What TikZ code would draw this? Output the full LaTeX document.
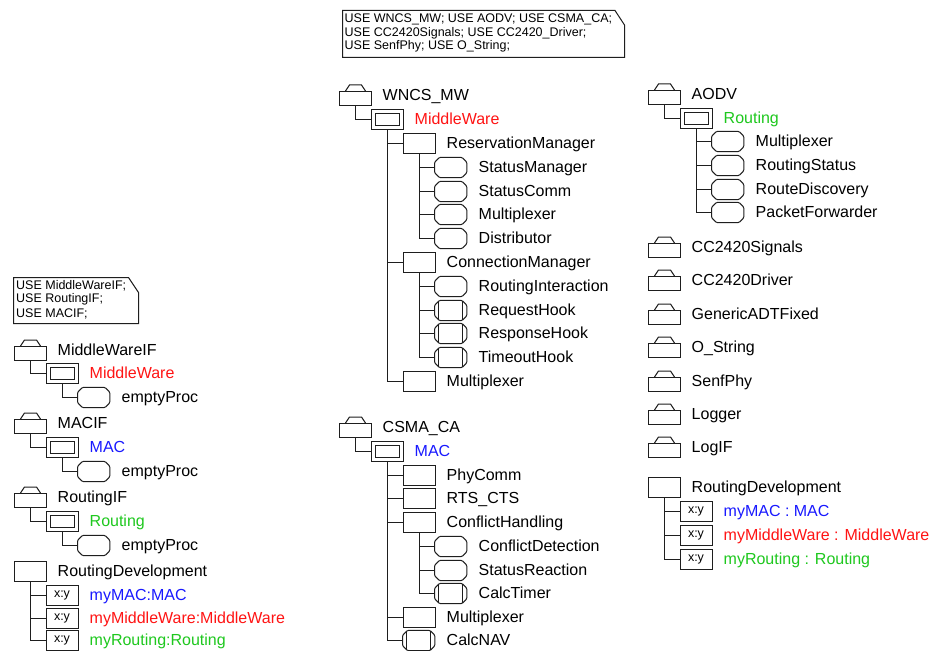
\documentclass[tikz,border=0pt]{standalone}
\usepackage{fontspec}
\setmainfont{Liberation Sans}
\newcommand\FontMain{\fontsize{16bp}{19bp}\selectfont}
\newcommand\FontNote{\fontsize{12.5bp}{13.5bp}\selectfont}
\definecolor{cred}{RGB}{255,20,20}
\definecolor{cblue}{RGB}{25,25,255}
\definecolor{cgreen}{RGB}{30,200,30}
\definecolor{cline}{RGB}{30,30,30}
\tikzset{
  ln/.style={line width=1bp, draw=cline, line join=miter},
  conn/.style={ln},
  box0/.style={rectangle, inner sep=0pt, minimum width=32bp, minimum height=20bp, anchor=west},
  blk/.style={box0, draw, ln},
  sysbox/.style={box0, draw, ln,
    path picture={\draw[ln] ([shift={(4bp,-4bp)}]path picture bounding box.north west) rectangle ([shift={(-4bp,4bp)}]path picture bounding box.south east);}},
  pkgbox/.style={box0, draw, ln, minimum width=32bp, minimum height=14bp, yshift=-3bp},
  inst/.style={blk, font=\FontNote, text=black},
  lbl/.style={anchor=west, inner sep=0pt, text height=11.5bp, text depth=2bp, font=\FontMain},
  notetxt/.style={anchor=base west, inner sep=0pt, font=\FontNote},
}
\newcommand\Lbl[5]{\node[lbl, xshift=44bp, text=#1] (#2-t) at (#3,#4) {#5};}
\newcommand\Pkg[5][black]{%
  \node[pkgbox] (#2) at (#3,#4) {};
  \draw[ln] ([xshift=7bp]#2.north west) -- ++(4bp,6bp) -- ++(12bp,0bp) -- ++(4bp,-6bp);
  \Lbl{#1}{#2}{#3}{#4}{#5}}
\newcommand\Sys[5][black]{%
  \node[sysbox] (#2) at (#3,#4) {};
  \Lbl{#1}{#2}{#3}{#4}{#5}}
\newcommand\Blk[5][black]{%
  \node[blk] (#2) at (#3,#4) {};
  \Lbl{#1}{#2}{#3}{#4}{#5}}
\newcommand\Oct[1]{%
  \draw[ln, rounded corners=1.2bp] ([xshift=5bp]#1.north west) -- ([xshift=-5bp]#1.north east) -- ([yshift=-5bp]#1.north east) -- ([yshift=5bp]#1.south east) -- ([xshift=-5bp]#1.south east) -- ([xshift=5bp]#1.south west) -- ([yshift=5bp]#1.south west) -- ([yshift=-5bp]#1.north west) -- cycle;}
\newcommand\Prc[5][black]{%
  \node[box0] (#2) at (#3,#4) {};
  \Oct{#2}
  \Lbl{#1}{#2}{#3}{#4}{#5}}
\newcommand\Hk[5][black]{%
  \node[box0] (#2) at (#3,#4) {};
  \Oct{#2}
  \draw[ln] ([shift={(4bp,-1bp)}]#2.north west) -- ([shift={(4bp,1bp)}]#2.south west);
  \draw[ln] ([shift={(-4bp,-1bp)}]#2.north east) -- ([shift={(-4bp,1bp)}]#2.south east);
  \Lbl{#1}{#2}{#3}{#4}{#5}}
\newcommand\Ins[5][black]{%
  \node[inst] (#2) at (#3,#4) {x:y};
  \Lbl{#1}{#2}{#3}{#4}{#5}}
\begin{document}
\begin{tikzpicture}[x=1bp,y=-1bp]
\fill[white] (0,0) rectangle (933,651);
\useasboundingbox (0,0) rectangle (933,651);

% ---------- top note ----------
\draw[ln] (342.5,10.5) -- (615,10.5) -- (624.5,25) -- (624.5,57.5) -- (342.5,57.5) -- cycle;
\node[notetxt] (n1a) at (344.5,22.8) {USE WNCS\_MW; USE AODV; USE CSMA\_CA;};
\node[notetxt] (n1b) at (344.5,36.2) {USE CC2420Signals; USE CC2420\_Driver;};
\node[notetxt] (n1c) at (344.5,49.5) {USE SenfPhy; USE O\_String;};

% ---------- left note ----------
\draw[ln] (13.5,277.5) -- (128.5,277.5) -- (138.5,292.5) -- (138.5,323.5) -- (13.5,323.5) -- cycle;
\node[notetxt] (n2a) at (16,289.5) {USE MiddleWareIF;};
\node[notetxt] (n2b) at (16,302.8) {USE RoutingIF;};
\node[notetxt] (n2c) at (16,317.2) {USE MACIF;};

% ---------- left column ----------
\Pkg{lp1}{13.5}{350.5}{MiddleWareIF}
\Sys[cred]{ls1}{45.5}{373.5}{MiddleWare}
\Prc{lq1}{77.5}{397.5}{emptyProc}
\Pkg{lp2}{13.5}{423.5}{MACIF}
\Sys[cblue]{ls2}{45.5}{447.5}{MAC}
\Prc{lq2}{77.5}{471.5}{emptyProc}
\Pkg{lp3}{13.5}{497.5}{RoutingIF}
\Sys[cgreen]{ls3}{45.5}{521.5}{Routing}
\Prc{lq3}{77.5}{545.5}{emptyProc}
\Blk{lb}{13.5}{571.5}{RoutingDevelopment}
\Ins[cblue]{li1}{45.5}{595.5}{myMAC:MAC}
\Ins[cred]{li2}{45.5}{618.5}{myMiddleWare:MiddleWare}
\Ins[cgreen]{li3}{45.5}{640.5}{myRouting:Routing}

\draw[conn] (lp1.south) |- (ls1.west);
\draw[conn] (ls1.south) |- (lq1.west);
\draw[conn] (lp2.south) |- (ls2.west);
\draw[conn] (ls2.south) |- (lq2.west);
\draw[conn] (lp3.south) |- (ls3.west);
\draw[conn] (ls3.south) |- (lq3.west);
\draw[conn] (lb.south) |- (li1.west);
\draw[conn] (lb.south) |- (li2.west);
\draw[conn] (lb.south) |- (li3.west);

% ---------- middle: WNCS_MW ----------
\Pkg{mp1}{338.5}{95.5}{WNCS\_MW}
\Sys[cred]{ms1}{370.5}{119.5}{MiddleWare}
\Blk{mb1}{402.5}{143.5}{ReservationManager}
\Prc{mq1}{434.5}{167.5}{StatusManager}
\Prc{mq2}{434.5}{191.5}{StatusComm}
\Prc{mq3}{434.5}{214.5}{Multiplexer}
\Prc{mq4}{434.5}{238.5}{Distributor}
\Blk{mb2}{402.5}{262.5}{ConnectionManager}
\Prc{mq5}{434.5}{286.5}{RoutingInteraction}
\Hk{mh1}{434.5}{310.5}{RequestHook}
\Hk{mh2}{434.5}{333.5}{ResponseHook}
\Hk{mh3}{434.5}{357.5}{TimeoutHook}
\Blk{mb3}{402.5}{381.5}{Multiplexer}

\draw[conn] (mp1.south) |- (ms1.west);
\draw[conn] (ms1.south) |- (mb1.west);
\draw[conn] (ms1.south) |- (mb2.west);
\draw[conn] (ms1.south) |- (mb3.west);
\draw[conn] (mb1.south) |- (mq1.west);
\draw[conn] (mb1.south) |- (mq2.west);
\draw[conn] (mb1.south) |- (mq3.west);
\draw[conn] (mb1.south) |- (mq4.west);
\draw[conn] (mb2.south) |- (mq5.west);
\draw[conn] (mb2.south) |- (mh1.west);
\draw[conn] (mb2.south) |- (mh2.west);
\draw[conn] (mb2.south) |- (mh3.west);

% ---------- middle: CSMA_CA ----------
\Pkg{mp2}{338.5}{427.5}{CSMA\_CA}
\Sys[cblue]{ms2}{370.5}{451.5}{MAC}
\Blk{mb4}{402.5}{475.5}{PhyComm}
\Blk{mb5}{402.5}{498.5}{RTS\_CTS}
\Blk{mb6}{402.5}{522.5}{ConflictHandling}
\Prc{mq6}{434.5}{546.5}{ConflictDetection}
\Prc{mq7}{434.5}{570.5}{StatusReaction}
\Hk{mh4}{434.5}{593.5}{CalcTimer}
\Blk{mb7}{402.5}{617.5}{Multiplexer}
\Hk{mh5}{402.5}{640.5}{CalcNAV}

\draw[conn] (mp2.south) |- (ms2.west);
\draw[conn] (ms2.south) |- (mb4.west);
\draw[conn] (ms2.south) |- (mb5.west);
\draw[conn] (ms2.south) |- (mb6.west);
\draw[conn] (ms2.south) |- (mb7.west);
\draw[conn] (ms2.south) |- (mh5.west);
\draw[conn] (mb6.south) |- (mq6.west);
\draw[conn] (mb6.south) |- (mq7.west);
\draw[conn] (mb6.south) |- (mh4.west);

% ---------- right: AODV ----------
\Pkg{rp1}{647.5}{94.5}{AODV}
\Sys[cgreen]{rs1}{679.5}{118.5}{Routing}
\Prc{rq1}{711.5}{141.5}{Multiplexer}
\Prc{rq2}{711.5}{165.5}{RoutingStatus}
\Prc{rq3}{711.5}{189.5}{RouteDiscovery}
\Prc{rq4}{711.5}{212.5}{PacketForwarder}

\draw[conn] (rp1.south) |- (rs1.west);
\draw[conn] (rs1.south) |- (rq1.west);
\draw[conn] (rs1.south) |- (rq2.west);
\draw[conn] (rs1.south) |- (rq3.west);
\draw[conn] (rs1.south) |- (rq4.west);

% ---------- right: packages ----------
\Pkg{rp2}{647.5}{247.5}{CC2420Signals}
\Pkg{rp3}{647.5}{280.5}{CC2420Driver}
\Pkg{rp4}{647.5}{314.5}{GenericADTFixed}
\Pkg{rp5}{647.5}{347.5}{O\_String}
\Pkg{rp6}{647.5}{381.5}{SenfPhy}
\Pkg{rp7}{647.5}{414.5}{Logger}
\Pkg{rp8}{647.5}{447.5}{LogIF}

% ---------- right: RoutingDevelopment ----------
\Blk{rb}{647.5}{487.5}{RoutingDevelopment}
\Ins[cblue]{ri1}{679.5}{511.5}{myMAC : MAC}
\Ins[cred]{ri2}{679.5}{535.5}{myMiddleWare : MiddleWare}
\Ins[cgreen]{ri3}{679.5}{559.5}{myRouting : Routing}

\draw[conn] (rb.south) |- (ri1.west);
\draw[conn] (rb.south) |- (ri2.west);
\draw[conn] (rb.south) |- (ri3.west);
\end{tikzpicture}
\end{document}
